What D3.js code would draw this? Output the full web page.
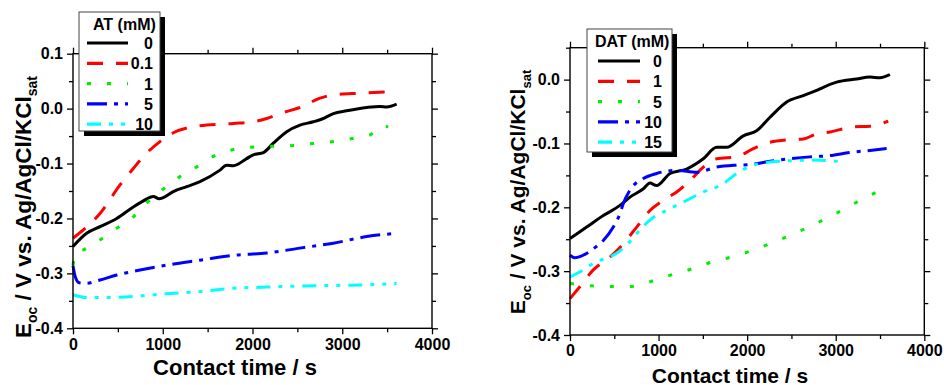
<!DOCTYPE html>
<html>
<head>
<meta charset="utf-8">
<script src="https://cdn.jsdelivr.net/npm/d3@7"></script>
<style>
  body { margin: 0; background: #fff; }
  text { font-family: "Liberation Sans", Arial, sans-serif; font-weight: bold; }
</style>
</head>
<body>
<div id="chart"></div>
<script>
// ---- data: [time (s), E (V)] ----
var at0  = [[0,-0.251],[152,-0.227],[301,-0.215],[487,-0.200],[672,-0.179],[784,-0.168],[895,-0.160],[960,-0.164],[1006,-0.162],[1118,-0.151],[1267,-0.142],[1415,-0.133],[1638,-0.112],[1712,-0.103],[1787,-0.104],[1935,-0.091],[2009,-0.084],[2121,-0.080],[2232,-0.063],[2381,-0.042],[2529,-0.030],[2678,-0.024],[2789,-0.018],[2901,-0.009],[3049,-0.004],[3272,0.002],[3420,0.004],[3495,0.003],[3606,0.008]];
var at01 = [[0,-0.236],[115,-0.221],[301,-0.191],[524,-0.139],[672,-0.109],[821,-0.081],[969,-0.060],[1118,-0.044],[1304,-0.034],[1489,-0.030],[1787,-0.027],[2009,-0.024],[2158,-0.018],[2343,-0.007],[2529,0.002],[2752,0.019],[2901,0.025],[3198,0.028],[3606,0.031]];
var at1  = [[0,-0.285],[30,-0.262],[115,-0.257],[301,-0.239],[487,-0.218],[672,-0.197],[821,-0.172],[969,-0.151],[1118,-0.133],[1267,-0.115],[1415,-0.103],[1563,-0.087],[1712,-0.078],[1861,-0.072],[2158,-0.069],[2455,-0.067],[2641,-0.064],[2901,-0.060],[3123,-0.054],[3309,-0.048],[3420,-0.032],[3513,-0.033]];
var at5  = [[0,-0.286],[25,-0.306],[70,-0.317],[152,-0.318],[301,-0.312],[487,-0.303],[746,-0.294],[1044,-0.285],[1415,-0.276],[1787,-0.267],[2158,-0.263],[2529,-0.254],[2901,-0.245],[3272,-0.233],[3606,-0.227]];
var at10 = [[0,-0.339],[152,-0.344],[301,-0.344],[672,-0.342],[1044,-0.337],[1415,-0.333],[1787,-0.327],[2158,-0.325],[2529,-0.323],[2901,-0.322],[3272,-0.321],[3606,-0.318]];

var dat0  = [[0,-0.249],[188,-0.231],[376,-0.213],[564,-0.197],[677,-0.184],[828,-0.171],[903,-0.162],[978,-0.166],[1129,-0.147],[1317,-0.140],[1505,-0.124],[1656,-0.106],[1769,-0.106],[1957,-0.088],[2107,-0.080],[2258,-0.059],[2446,-0.035],[2634,-0.025],[2784,-0.017],[2860,-0.012],[3010,-0.004],[3236,0.001],[3387,0.004],[3499,0.003],[3612,0.008]];
var dat1  = [[0,-0.343],[113,-0.324],[263,-0.298],[451,-0.278],[602,-0.257],[753,-0.231],[903,-0.205],[1054,-0.189],[1204,-0.176],[1355,-0.158],[1505,-0.137],[1656,-0.124],[1881,-0.121],[2070,-0.108],[2258,-0.098],[2484,-0.094],[2634,-0.093],[2784,-0.085],[2935,-0.082],[3198,-0.074],[3387,-0.073],[3593,-0.065]];
var dat5  = [[0,-0.319],[226,-0.323],[451,-0.324],[677,-0.324],[865,-0.318],[1091,-0.308],[1317,-0.299],[1618,-0.285],[1844,-0.277],[2070,-0.267],[2258,-0.257],[2484,-0.244],[2709,-0.230],[3010,-0.209],[3236,-0.192],[3462,-0.176]];
var dat10 = [[0,-0.275],[56,-0.279],[150,-0.275],[263,-0.265],[376,-0.252],[489,-0.231],[564,-0.210],[602,-0.194],[677,-0.173],[828,-0.155],[978,-0.147],[1204,-0.142],[1430,-0.145],[1656,-0.137],[1881,-0.134],[2032,-0.133],[2258,-0.128],[2484,-0.124],[2709,-0.121],[2935,-0.119],[3161,-0.114],[3387,-0.111],[3575,-0.108]];
var dat15 = [[0,-0.309],[113,-0.301],[301,-0.285],[451,-0.278],[640,-0.259],[753,-0.241],[903,-0.220],[1129,-0.202],[1317,-0.189],[1505,-0.176],[1731,-0.163],[1881,-0.147],[2070,-0.134],[2258,-0.129],[2484,-0.127],[2709,-0.126],[2935,-0.127],[3086,-0.129]];

var atLabels  = ["0", "0.1", "1", "5", "10"];
var datLabels = ["0", "1", "5", "10", "15"];
var xTicks = [0, 1000, 2000, 3000, 4000];
var xMinor = [500, 1500, 2500, 3500];

// ---- styles ----
var colors = ["#000000", "#ff0000", "#00ee00", "#0000ff", "#00ffff"];
var dashes = [null, "16,13", "4,16", "20,7,4,7", "14,8,4,8,4,8"];

var svg = d3.select("#chart").append("svg")
    .attr("width", 944)
    .attr("height", 385);

function drawPanel(p) {
    var x = d3.scaleLinear().domain([0, 4000]).range([p.left, p.right]);
    var y = d3.scaleLinear().domain(p.yDomain).range([p.bottom, p.top]);
    var g = svg.append("g");

    var line = d3.line()
        .x(function(d) { return x(d[0]); })
        .y(function(d) { return y(d[1]); })
        .curve(d3.curveMonotoneX);

    p.series.forEach(function(s, i) {
        g.append("path")
            .datum(s)
            .attr("d", line)
            .attr("fill", "none")
            .attr("stroke", colors[i])
            .attr("stroke-width", 3)
            .attr("stroke-dasharray", dashes[i]);
    });

    // axes, ticks outward on all four sides
    function axis(gen, scale, vals, size, fmt, tx, ty) {
        var a = g.append("g")
            .attr("transform", "translate(" + tx + "," + ty + ")")
            .call(gen(scale).tickValues(vals).tickSize(size).tickPadding(4).tickFormat(fmt));
        a.select(".domain").remove();
        a.selectAll("line").attr("stroke", "#000").attr("stroke-width", 1.3);
        a.selectAll("text").attr("font-size", 16).attr("fill", "#000");
        return a;
    }
    var none = function() { return ""; };
    var yfmt = function(d) { return d.toFixed(1); };

    axis(d3.axisBottom, x, xTicks, 6, d3.format("d"), 0, p.bottom);
    axis(d3.axisBottom, x, xMinor, 4, none, 0, p.bottom);
    axis(d3.axisTop, x, xTicks, 6, none, 0, p.top);
    axis(d3.axisTop, x, xMinor, 4, none, 0, p.top);
    axis(d3.axisLeft, y, p.yTicks, 6, yfmt, p.left, 0);
    axis(d3.axisLeft, y, p.yMinor, 4, none, p.left, 0);
    axis(d3.axisRight, y, p.yTicks, 6, none, p.right, 0);
    axis(d3.axisRight, y, p.yMinor, 4, none, p.right, 0);

    g.append("rect")
        .attr("x", p.left).attr("y", p.top)
        .attr("width", p.right - p.left).attr("height", p.bottom - p.top)
        .attr("fill", "none").attr("stroke", "#000").attr("stroke-width", 1.4);

    // axis titles
    g.append("text")
        .attr("x", p.xTitle[0]).attr("y", p.xTitle[1])
        .attr("text-anchor", "middle")
        .attr("font-size", p.xTitleSize)
        .text("Contact time / s");

    var yt = g.append("text")
        .attr("transform", "translate(" + p.yTitle[0] + "," + p.yTitle[1] + ") rotate(-90)")
        .attr("text-anchor", "middle")
        .attr("font-size", p.yTitleSize);
    yt.append("tspan").text("E");
    yt.append("tspan").attr("font-size", p.yTitleSize * 0.62).attr("dy", 6).text("oc");
    yt.append("tspan").attr("dy", -6).text(" / V vs. Ag/AgCl/KCl");
    yt.append("tspan").attr("font-size", p.yTitleSize * 0.62).attr("dy", 6).text("sat");

    // legend with drop shadow
    var L = p.legend;
    g.append("rect").attr("x", L.x + 5).attr("y", L.y + 5)
        .attr("width", L.w).attr("height", L.h).attr("fill", "#000");
    g.append("rect").attr("x", L.x).attr("y", L.y)
        .attr("width", L.w).attr("height", L.h)
        .attr("fill", "#fff").attr("stroke", "#444").attr("stroke-width", 1);
    g.append("text")
        .attr("x", L.titleX).attr("y", L.y + 18)
        .attr("font-size", 16)
        .text(L.title);
    p.labels.forEach(function(lab, i) {
        var ry = L.y + L.row0 + i * 20.3;
        g.append("line")
            .attr("x1", L.lineX0).attr("x2", L.lineX1)
            .attr("y1", ry).attr("y2", ry)
            .attr("stroke", colors[i])
            .attr("stroke-width", 3.2)
            .attr("stroke-dasharray", dashes[i]);
        g.append("text")
            .attr("x", L.labelX).attr("y", ry + 6)
            .attr("text-anchor", "end")
            .attr("font-size", 16)
            .text(lab);
    });
}

drawPanel({
    left: 73, right: 432, top: 53.7, bottom: 328.3,
    yDomain: [-0.4, 0.1],
    yTicks: [-0.4, -0.3, -0.2, -0.1, 0.0, 0.1],
    yMinor: [-0.35, -0.25, -0.15, -0.05, 0.05],
    series: [at0, at01, at1, at5, at10],
    labels: atLabels,
    xTitle: [235, 375], xTitleSize: 22,
    yTitle: [31, 207], yTitleSize: 22.5,
    legend: { x: 79, y: 12, w: 81, h: 119, title: "AT (mM)", titleX: 93,
              row0: 31, lineX0: 87, lineX1: 128, labelX: 153 }
});

drawPanel({
    left: 570, right: 924.3, top: 47.7, bottom: 335,
    yDomain: [-0.4, 0.05],
    yTicks: [-0.4, -0.3, -0.2, -0.1, 0.0],
    yMinor: [-0.35, -0.25, -0.15, -0.05, 0.05],
    series: [dat0, dat1, dat5, dat10, dat15],
    labels: datLabels,
    xTitle: [730, 383], xTitleSize: 21,
    yTitle: [525, 192], yTitleSize: 21,
    legend: { x: 587, y: 29, w: 85, h: 123, title: "DAT (mM)", titleX: 595,
              row0: 32, lineX0: 598, lineX1: 640, labelX: 662 }
});
</script>
</body>
</html>
